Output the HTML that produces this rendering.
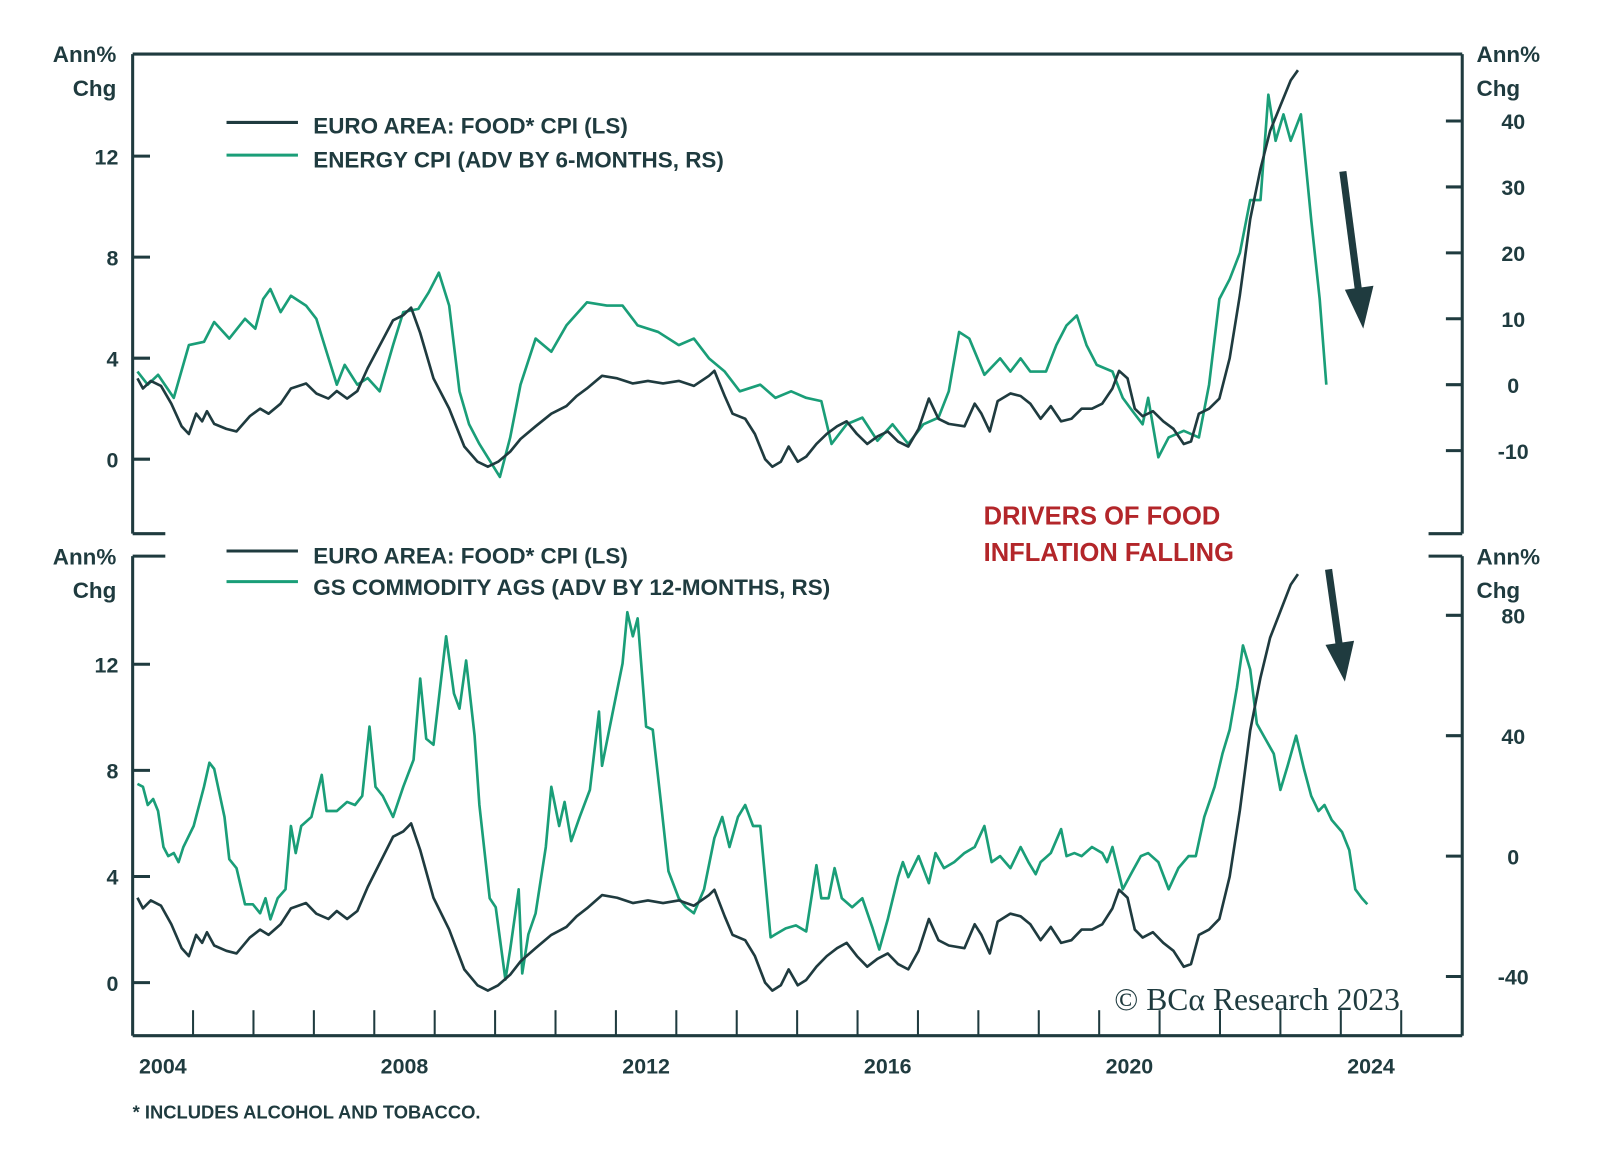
<!DOCTYPE html>
<html><head><meta charset="utf-8"><style>
html,body{margin:0;padding:0;background:#fff;}
svg{display:block;}
text{font-family:"Liberation Sans Narrow","Liberation Sans",sans-serif;font-weight:bold;fill:#1f3b3f;}
</style></head><body>
<svg id="chart" width="1600" height="1163" viewBox="0 0 1600 1163">
<g transform="scale(1.0204)">
<g id="frame" stroke="#1f3b3f" stroke-width="3" fill="none">
<path d="M130,53 H1433 M130,53 V523 M1433,53 V523 M130,523 H162 M1400,523 H1433"/>
<path d="M130,545 H162 M1400,545 H1433 M130,545 V1015 M1433,545 V1015 M130,1015 H1433"/>
</g>
<g id="ticks"></g>
<g id="series"></g>
<g>
<line x1="222" y1="120" x2="292" y2="120" stroke="#1f3b3f" stroke-width="3"/>
<line x1="222" y1="152" x2="292" y2="152" stroke="#1a9e78" stroke-width="3"/>
<text x="307" y="131" font-size="22">EURO AREA: FOOD* CPI (LS)</text>
<text x="307" y="164" font-size="22">ENERGY CPI (ADV BY 6-MONTHS, RS)</text>
</g>
<g>
<line x1="222" y1="540" x2="292" y2="540" stroke="#1f3b3f" stroke-width="3"/>
<line x1="222" y1="570" x2="292" y2="570" stroke="#1a9e78" stroke-width="3"/>
<text x="307" y="552" font-size="22">EURO AREA: FOOD* CPI (LS)</text>
<text x="307" y="583" font-size="22">GS COMMODITY AGS (ADV BY 12-MONTHS, RS)</text>
</g>
<text x="964" y="514" font-size="25" style="fill:#b3262a">DRIVERS OF FOOD</text>
<text x="964" y="550" font-size="25" style="fill:#b3262a">INFLATION FALLING</text>
<g>
<line x1="1316" y1="168" x2="1332" y2="290" stroke="#1f3b3f" stroke-width="7"/>
<polygon points="1318,284 1346,280 1336,322" fill="#1f3b3f"/>
</g>
<g>
<line x1="1302" y1="558" x2="1313" y2="636" stroke="#1f3b3f" stroke-width="7"/>
<polygon points="1299,632 1327,628 1318,668" fill="#1f3b3f"/>
</g>
<text x="1092" y="990" font-size="31" style="font-family:'Liberation Serif',serif;font-weight:normal">© BCα Research 2023</text>
<text x="130" y="1096" font-size="18">*  INCLUDES ALCOHOL AND TOBACCO.</text>
</g>
</svg>
<script>
const foodYears=[2004.08,2004.17,2004.30,2004.47,2004.64,2004.81,2004.93,2005.05,2005.15,2005.23,2005.35,2005.55,2005.72,2005.94,2006.11,2006.25,2006.45,2006.62,2006.87,2007.04,2007.24,2007.38,2007.55,2007.72,2007.89,2008.09,2008.31,2008.48,2008.61,2008.76,2008.98,2009.24,2009.49,2009.71,2009.88,2010.05,2010.25,2010.42,2010.67,2010.93,2011.18,2011.35,2011.52,2011.77,2012.02,2012.28,2012.53,2012.78,2013.04,2013.29,2013.54,2013.63,2013.80,2013.93,2014.14,2014.30,2014.47,2014.59,2014.73,2014.86,2015.01,2015.15,2015.32,2015.49,2015.66,2015.82,2015.99,2016.16,2016.33,2016.50,2016.67,2016.84,2017.01,2017.18,2017.34,2017.51,2017.77,2017.94,2018.05,2018.19,2018.32,2018.53,2018.70,2018.86,2019.03,2019.20,2019.37,2019.54,2019.71,2019.88,2020.05,2020.22,2020.33,2020.47,2020.59,2020.72,2020.89,2021.06,2021.23,2021.40,2021.52,2021.65,2021.82,2021.99,2022.16,2022.33,2022.50,2022.67,2022.83,2023.00,2023.17,2023.29];
const foodValues=[3.2,2.8,3.1,2.9,2.2,1.3,1.0,1.8,1.5,1.9,1.4,1.2,1.1,1.7,2.0,1.8,2.2,2.8,3.0,2.6,2.4,2.7,2.4,2.7,3.6,4.5,5.5,5.7,6.0,5.0,3.2,2.0,0.5,-0.1,-0.3,-0.1,0.3,0.8,1.3,1.8,2.1,2.5,2.8,3.3,3.2,3.0,3.1,3.0,3.1,2.9,3.3,3.5,2.5,1.8,1.6,1.0,0.0,-0.3,-0.1,0.5,-0.1,0.1,0.6,1.0,1.3,1.5,1.0,0.6,0.9,1.1,0.7,0.5,1.2,2.4,1.6,1.4,1.3,2.2,1.8,1.1,2.3,2.6,2.5,2.2,1.6,2.1,1.5,1.6,2.0,2.0,2.2,2.8,3.5,3.2,2.0,1.7,1.9,1.5,1.2,0.6,0.7,1.8,2.0,2.4,4.0,6.5,9.5,11.5,13.0,14.0,15.0,15.4];
const energyYears=[2004.08,2004.25,2004.42,2004.68,2004.93,2005.18,2005.35,2005.60,2005.86,2006.03,2006.16,2006.28,2006.45,2006.62,2006.87,2007.04,2007.21,2007.38,2007.51,2007.72,2007.89,2008.09,2008.31,2008.48,2008.73,2008.90,2009.07,2009.24,2009.41,2009.57,2009.74,2010.08,2010.25,2010.42,2010.67,2010.93,2011.18,2011.52,2011.85,2012.11,2012.36,2012.70,2013.04,2013.29,2013.54,2013.80,2014.05,2014.39,2014.64,2014.90,2015.15,2015.40,2015.57,2015.82,2016.08,2016.33,2016.58,2016.84,2017.09,2017.34,2017.51,2017.68,2017.85,2018.10,2018.36,2018.53,2018.70,2018.86,2019.12,2019.29,2019.46,2019.63,2019.79,2019.96,2020.22,2020.39,2020.55,2020.72,2020.81,2020.98,2021.15,2021.40,2021.65,2021.82,2021.99,2022.16,2022.33,2022.50,2022.67,2022.80,2022.92,2023.05,2023.17,2023.34,2023.51,2023.65,2023.76];
const energyValues=[2,0,1.5,-2,6,6.5,9.5,7,10,8.5,13,14.5,11,13.5,12,10,5,0,3,0,1,-1,6,11,11.5,14,17,12,-1,-6,-9,-14,-8,0,7,5,9,12.5,12,12,9,8,6,7,4,2,-1,0,-2,-1,-2,-2.5,-9,-6,-5,-8.5,-6,-9,-6,-5,-1,8,7,1.5,4,2,4,2,2,6,9,10.5,6,3,2,-2,-4,-6,-2,-11,-8,-7,-8,0,13,16,20,28,28,44,37,41,37,41,25,13,0];
const agsYears=[2004.08,2004.17,2004.25,2004.34,2004.42,2004.51,2004.59,2004.68,2004.76,2004.84,2005.01,2005.18,2005.27,2005.35,2005.52,2005.60,2005.72,2005.86,2005.99,2006.11,2006.20,2006.28,2006.40,2006.53,2006.62,2006.70,2006.79,2006.96,2007.13,2007.21,2007.38,2007.55,2007.68,2007.80,2007.92,2008.02,2008.14,2008.31,2008.48,2008.65,2008.76,2008.86,2008.98,2009.19,2009.32,2009.41,2009.52,2009.66,2009.74,2009.91,2010.01,2010.17,2010.25,2010.39,2010.45,2010.55,2010.67,2010.84,2010.93,2011.06,2011.15,2011.26,2011.40,2011.57,2011.72,2011.77,2011.94,2012.11,2012.19,2012.28,2012.36,2012.50,2012.61,2012.75,2012.87,2013.04,2013.16,2013.29,2013.46,2013.63,2013.76,2013.88,2014.02,2014.14,2014.27,2014.39,2014.56,2014.64,2014.81,2014.98,2015.15,2015.32,2015.40,2015.52,2015.62,2015.74,2015.91,2016.08,2016.25,2016.36,2016.50,2016.67,2016.75,2016.84,2017.01,2017.18,2017.29,2017.43,2017.60,2017.77,2017.94,2018.10,2018.22,2018.36,2018.53,2018.70,2018.83,2018.95,2019.03,2019.20,2019.37,2019.46,2019.59,2019.71,2019.88,2020.05,2020.13,2020.22,2020.39,2020.55,2020.69,2020.81,2020.98,2021.15,2021.31,2021.48,2021.60,2021.74,2021.91,2022.04,2022.16,2022.28,2022.38,2022.50,2022.61,2022.75,2022.89,2023.00,2023.12,2023.26,2023.39,2023.51,2023.63,2023.73,2023.85,2024.02,2024.14,2024.24,2024.35,2024.44];
const agsValues=[24,23,17,19,15,3,0,1,-2,3,10,23,31,29,13,-1,-4,-16,-16,-19,-14,-21,-14,-11,10,1,10,13,27,15,15,18,17,20,43,23,20,13,23,32,59,39,37,73,54,49,65,40,17,-14,-17,-41,-31,-11,-39,-26,-19,3,23,10,18,5,13,22,48,30,47,64,81,73,79,43,42,17,-5,-14,-17,-19,-11,6,13,3,13,17,10,10,-27,-26,-24,-23,-25,-3,-14,-14,-4,-14,-17,-14,-24,-31,-21,-7,-2,-7,0,-9,1,-4,-2,1,3,10,-2,0,-4,3,-2,-6,-2,1,9,0,1,0,3,1,-2,3,-11,-5,0,1,-2,-11,-4,0,0,13,23,34,42,56,70,62,44,39,34,22,30,40,29,20,15,17,12,8,2,-11,-14,-16];
const leftTicks=[0,4,8,12];
const topRightTicks=[-10,0,10,20,30,40];
const bottomRightTicks=[-40,0,40,80];
const yearLabels=[2004,2008,2012,2016,2020,2024];
const yearTicks=[2005,2006,2007,2008,2009,2010,2011,2012,2013,2014,2015,2016,2017,2018,2019,2020,2021,2022,2023,2024,2025];

const NS='http://www.w3.org/2000/svg';
const xS=t=>130+(t-2004)*59.2;
const yTopL=v=>450-v*24.75;
const yTopR=v=>377-v*6.46;
const yBotL=v=>963-v*26;
const yBotR=v=>839-v*2.95;
function mk(tag,attrs,parent){const e=document.createElementNS(NS,tag);for(const k in attrs)e.setAttribute(k,attrs[k]);parent.appendChild(e);return e;}
const tg=document.getElementById('ticks');
const sg=document.getElementById('series');
const dark='#1f3b3f',green='#1a9e78';
function axisTitle(x,y,anchor,nm){
  const a=mk('text',{x:x,y:y,'font-size':22,'text-anchor':anchor},tg);a.textContent='Ann%';
  
  
  const b=mk('text',{x:x,y:y+33,'font-size':22,'text-anchor':anchor},tg);b.textContent='Chg';
  
  
}
axisTitle(114,61,'end','top-left-axis-title');
axisTitle(1447,61,'start','top-right-axis-title');
axisTitle(114,553,'end','bottom-left-axis-title');
axisTitle(1447,553,'start','bottom-right-axis-title');
function leftAxis(fn,nm){
  leftTicks.forEach(v=>{const y=fn(v);
    const l=mk('line',{x1:130,x2:147,y1:y,y2:y,stroke:dark,'stroke-width':3},tg);
    
    
    const t=mk('text',{x:116,y:y+8,'font-size':21,'text-anchor':'end'},tg);t.textContent=v;
    
    });
}
function rightAxis(ticks,fn,nm){
  ticks.forEach(v=>{const y=fn(v);
    const l=mk('line',{x1:1417,x2:1433,y1:y,y2:y,stroke:dark,'stroke-width':3},tg);
    
    
    const t=mk('text',{x:1483,y:y+8,'font-size':21,'text-anchor':'middle'},tg);t.textContent=v;
    
    });
}
leftAxis(yTopL,'top-left-axis');
leftAxis(yBotL,'bottom-left-axis');
rightAxis(topRightTicks,yTopR,'top-right-axis');
rightAxis(bottomRightTicks,yBotR,'bottom-right-axis');
yearTicks.forEach(yr=>{const x=xS(yr);
  const l=mk('line',{x1:x,x2:x,y1:990,y2:1015,stroke:dark,'stroke-width':2},tg);
  
  });
yearLabels.forEach(yr=>{const x=xS(yr+0.5);
  const t=mk('text',{x:x,y:1052,'font-size':21,'text-anchor':'middle'},tg);t.textContent=yr;
  
  });
function line(xs,vs,fy,color,nm){
  const d=xs.map((t,i)=>(i?'L':'M')+xS(t).toFixed(1)+','+fy(vs[i]).toFixed(1)).join('');
  const p=mk('path',{d:d,fill:'none',stroke:color,'stroke-width':2.6,'stroke-linejoin':'round'},sg);
  
  
}
line(energyYears,energyValues,yTopR,green,'energy-cpi-line');
line(foodYears,foodValues,yTopL,dark,'food-cpi-line-top');
line(agsYears,agsValues,yBotR,green,'gs-ags-line');
line(foodYears,foodValues,yBotL,dark,'food-cpi-line-bottom');
</script>
</body></html>
